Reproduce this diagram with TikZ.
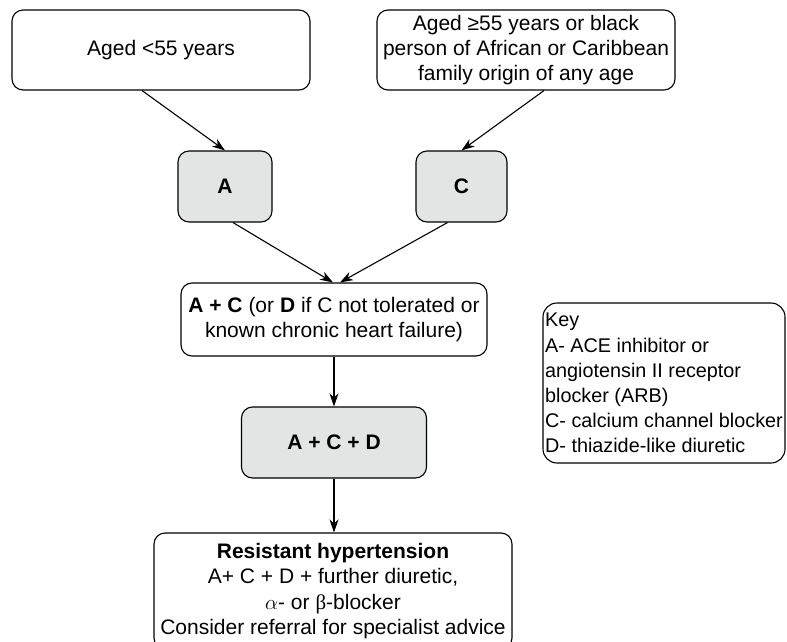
\documentclass[tikz,border=0pt]{standalone}
\usepackage{fontspec}
\setmainfont{Liberation Sans}
\newfontfamily\greekfont{Liberation Serif}
\usetikzlibrary{arrows.meta,calc}
\definecolor{drugfill}{HTML}{E3E4E4}
\tikzset{
	stepbox/.style={draw, line width=1.1pt, rounded corners=11pt, align=center, inner sep=2pt, font=\fontsize{21}{25.3}\selectfont},
	drugbox/.style={stepbox, fill=drugfill, font=\fontsize{21}{25.3}\selectfont\bfseries},
	keybox/.style={stepbox, align=left, inner sep=1pt, rounded corners=14pt, font=\fontsize{19.8}{25.1}\selectfont},
	arr/.style={line width=1.1pt, -{Stealth[length=13pt,width=9pt,inset=4pt]}}
}

\begin{document}
\begin{tikzpicture}[x=1pt,y=-1pt]
		%%%%% START %%%%%
		
		\clip (0,0) rectangle (787,642);
		
		\node[stepbox, minimum width=298pt, minimum height=80pt] (young) at (161,50) {Aged <55 years};
		\node[stepbox, minimum width=298pt, minimum height=80pt] (old) at (526,50) {Aged ≥55 years or black\\person of African or Caribbean\\family origin of any age};
		
		\node[drugbox, minimum width=94pt, minimum height=71pt] (A) at (225,186.5) {A};
		\node[drugbox, minimum width=91pt, minimum height=71pt] (C) at (461.5,186.5) {C};
		
		\node[stepbox, minimum width=306pt, minimum height=73pt] (AC) at (334,319.5) {\textbf{A + C} (or \textbf{D} if C not tolerated or\\known chronic heart failure)};
		\node[drugbox, minimum width=185pt, minimum height=71pt] (ACD) at (334,442.5) {A + C + D};
		
		\node[stepbox, minimum width=358pt, minimum height=116pt] (resist) at (333,591) {\textbf{Resistant hypertension}\\A+ C + D + further diuretic,\\$\alpha$- or {\greekfont β}-blocker\\Consider referral for specialist advice};
		
		\node[keybox, minimum width=242pt, minimum height=160pt] (key) at (664,383) {Key\\A- ACE inhibitor or\\angiotensin II receptor\\blocker (ARB)\\C- calcium channel blocker\\D- thiazide-like diuretic};
		
		\draw[arr] ($(young.south)+(-19,0)$) -- (A.north);
		\draw[arr] ($(old.south)+(18,0)$) -- (C.north);
		\draw[arr] ($(A.south)+(8,0)$) -- ($(AC.north)+(-1,0)$);
		\draw[arr] ($(C.south)+(-14,0)$) -- ($(AC.north)+(6,0)$);
		\draw[arr] (AC.south) -- (ACD.north);
		\draw[arr] (ACD.south) -- (resist.north -| ACD.south);
		
		%%%%% END %%%%%
	\end{tikzpicture}
\end{document}
